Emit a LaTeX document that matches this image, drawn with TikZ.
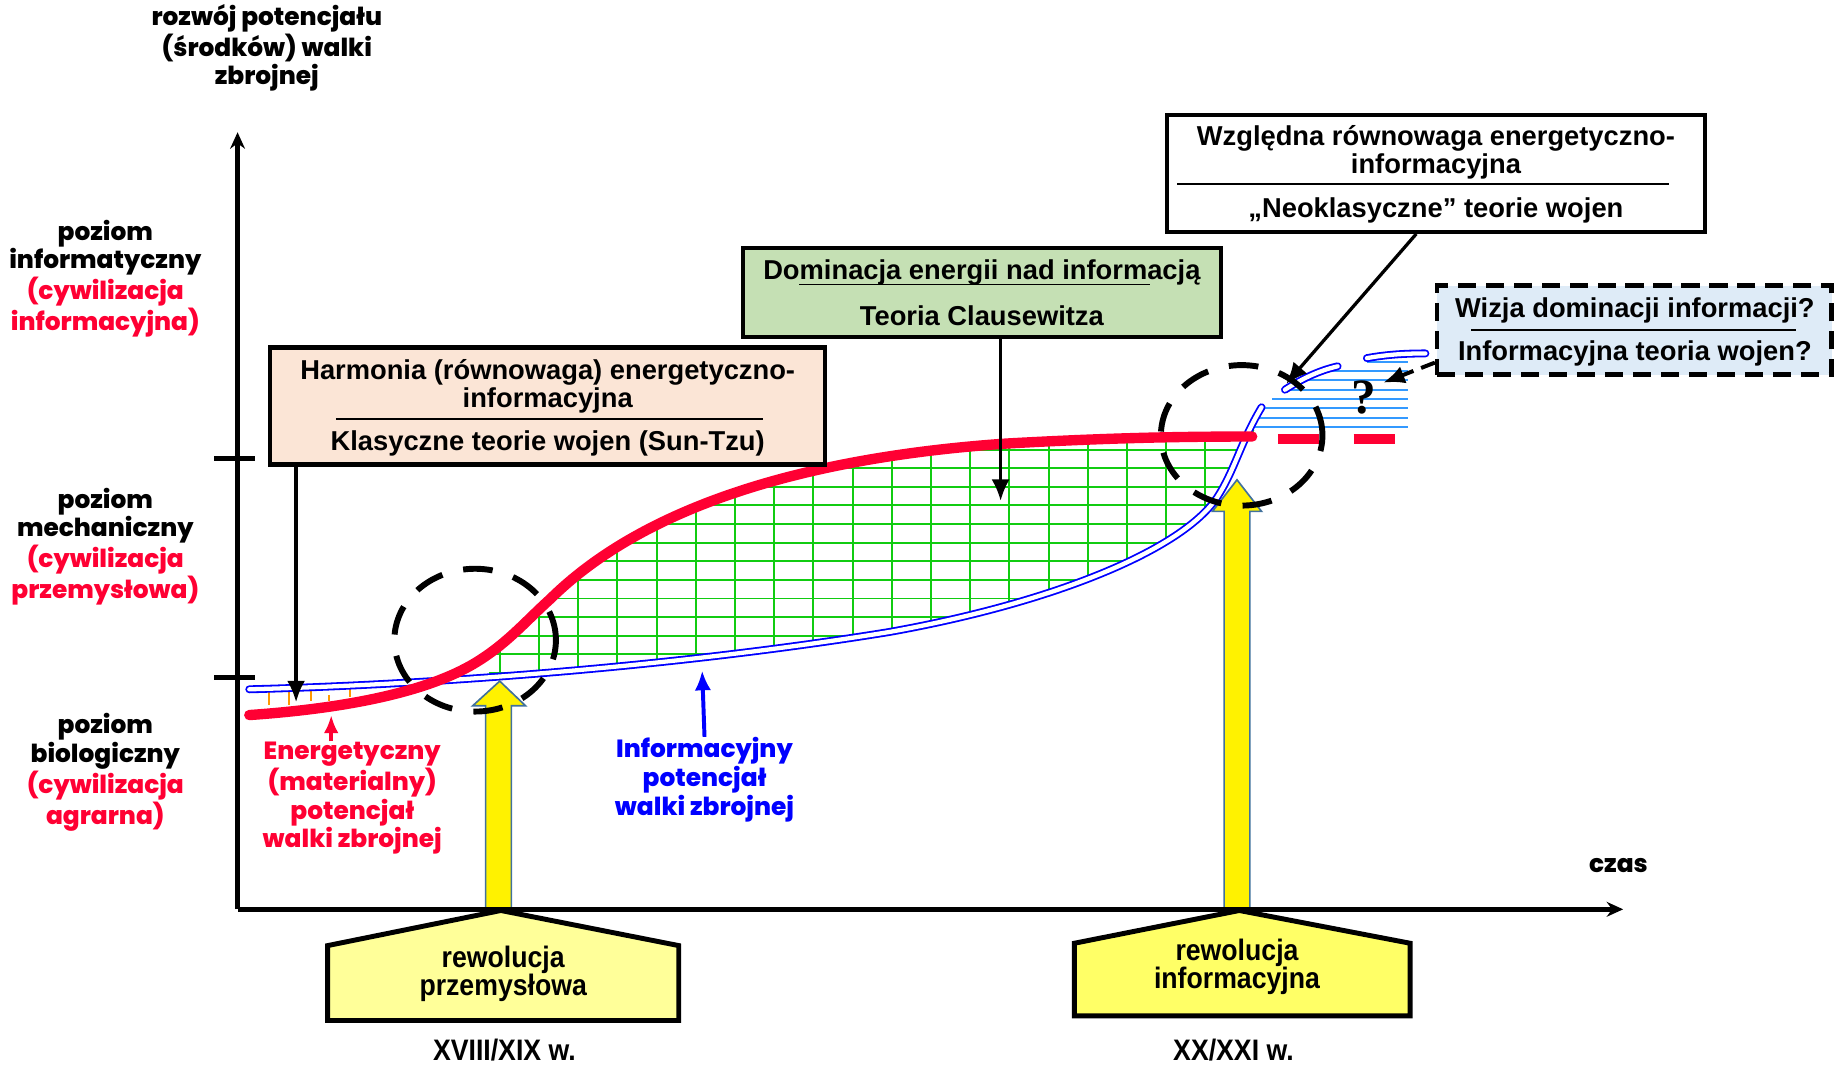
\documentclass[tikz,border=0pt]{standalone}
\usepackage{fontspec}
\usepackage{graphicx}
\usetikzlibrary{arrows.meta}
\setmainfont{Liberation Sans}
\newfontfamily\heavyfont{Poppins ExtraBold}
\newfontfamily\qfont{Liberation Serif}
\definecolor{crimson}{HTML}{FF0033}
\definecolor{peach}{HTML}{FBE5D6}
\definecolor{sage}{HTML}{C5E0B4}
\definecolor{ice}{HTML}{DEEBF7}
\definecolor{lemon}{HTML}{FFFF99}
\definecolor{lemondark}{HTML}{FFFF66}
\definecolor{steel}{HTML}{41719C}
\definecolor{gridgreen}{HTML}{11CC11}
\definecolor{sky}{HTML}{3399FF}
\definecolor{amber}{HTML}{FF9900}
\newcommand{\narrow}[1]{\scalebox{0.9}[1]{#1}}
\newcommand{\energypath}{(213,611) .. controls (300,605) and (370,590) .. (410,564) .. controls (435,548) and (450,530) .. (470,512) .. controls (555,428) and (700,390) .. (860,379) .. controls (950,374) and (1010,373) .. (1070,373)}
\newcommand{\infopath}{(213,589) .. controls (400,584) and (600,566) .. (760,540) .. controls (900,515) and (1010,470) .. (1040,425) .. controls (1055,402) and (1060,378) .. (1078,348)}
\newcommand{\infoback}{(1078,348) .. controls (1060,378) and (1055,402) .. (1040,425) .. controls (1010,470) and (900,515) .. (760,540) .. controls (600,566) and (400,584) .. (213,589)}
\begin{document}
\begin{tikzpicture}[x=0.025cm,y=-0.025cm,
    box/.style={draw=black,line width=2.6pt,inner sep=0pt},
    boxtext/.style={font=\bfseries\fontsize{16.6}{17}\selectfont,align=center,inner sep=0pt},
    axtext/.style={font=\heavyfont\fontsize{15.1}{17.5}\selectfont,align=center,inner sep=0pt},
    narrowtext/.style={font=\bfseries\fontsize{18}{17}\selectfont,align=center,inner sep=0pt},
    pointer/.style={-{Latex[length=13pt,width=11pt]},line width=2pt},
    divider/.style={line width=1pt},
    ring/.style={draw=black,line width=3.6pt,dash pattern=on 18pt off 13pt},
    blockarrow/.style={fill=yellow,draw=steel,line width=1pt},
    house/.style={draw=black,line width=3pt},
    gridline/.style={draw=gridgreen,line width=1.2pt},
    hatch/.style={draw=sky,line width=1.2pt},
    infoline/.style={draw=blue,double=white,line width=1.1pt,double distance=2.6pt,line cap=round}]
    \useasboundingbox (0,0) rectangle (1568,910);

    \begin{scope}
      \clip (418,300) rectangle (1075,620);
      \clip \energypath -- \infoback -- cycle;
      \foreach \k in {0,...,13} \draw[gridline] (400,575-15.9*\k) -- (1080,575-15.9*\k);
      \foreach \k in {0,...,18} \draw[gridline] (427+33.5*\k,360) -- (427+33.5*\k,600);
    \end{scope}
    \foreach \y/\xl in {309/1168,317/1134,325/1114,333/1099,341/1087,349/1075,357/1070,365/1067}
      \draw[hatch] (\xl,\y) -- (1203,\y);
    \foreach \x/\a/\b in {230/590/602,247/590/602,266/590/599,281/594/599,299/589/596}
      \draw[amber,line width=1.3pt] (\x,\a) -- (\x,\b);

    \draw[infoline] \infopath;
    \draw[infoline] (1098,333) .. controls (1112,324) and (1126,317) .. (1143,313);
    \draw[infoline] (1168,306) .. controls (1185,303) and (1200,302) .. (1218,302);
    \draw[crimson,line width=6.3pt,line cap=round] \energypath;
    \draw[crimson,line width=6.3pt,dash pattern=on 25pt off 21pt] (1092,375) -- (1192,375);

    \draw[blockarrow] (415,776) -- (415,603) -- (404,603) -- (427,582) -- (449,603) -- (437,603) -- (437,776) -- cycle;
    \draw[blockarrow] (1046,776) -- (1046,437) -- (1036,437) -- (1057,410) -- (1078,437) -- (1068,437) -- (1068,776) -- cycle;
    \draw[house,fill=lemon] (428,778) -- (580,808) -- (580,872) -- (280,872) -- (280,808) -- cycle;
    \draw[house,fill=lemondark] (1059,778) -- (1205,806) -- (1205,868) -- (918,868) -- (918,806) -- cycle;
    \node[narrowtext] (revind) at (430,832) {\narrow{rewolucja}\\\narrow{przemysłowa}};
    \node[narrowtext] (revinf) at (1057,826.5) {\narrow{rewolucja}\\\narrow{informacyjna}};
    \node[narrowtext] (cent18) at (431,897) {\narrow{XVIII/XIX w.}};
    \node[narrowtext] (cent20) at (1054,897) {\narrow{XX/XXI w.}};

    \coordinate (o) at (203,777); \coordinate (ytop) at (203,113); \coordinate (xend) at (1387,777);
    \draw[line width=3pt,-{Stealth[length=10pt,width=9pt]}] (o) -- (ytop);
    \draw[line width=3pt,-{Stealth[length=10pt,width=9pt]}] (o) -- (xend);
    \draw[line width=3pt] (183,392) -- (218,392);
    \draw[line width=3pt] (183,579) -- (218,579);

    \node[axtext] (ytitle) at (228,41) {rozwój potencjału\\(środków) walki\\zbrojnej};
    \node[axtext] (lvlinfo) at (90,238) {poziom\\informatyczny\\\textcolor{crimson}{(cywilizacja}\\\textcolor{crimson}{informacyjna)}};
    \node[axtext] (lvlmech) at (90,467) {poziom\\mechaniczny\\\textcolor{crimson}{(cywilizacja}\\\textcolor{crimson}{przemysłowa)}};
    \node[axtext] (lvlbio) at (90,660) {poziom\\biologiczny\\\textcolor{crimson}{(cywilizacja}\\\textcolor{crimson}{agrarna)}};
    \node[axtext] (czas) at (1383,740) {czas};

    \node[box,fill=peach,minimum width=11.85cm,minimum height=2.5cm] (harm) at (468,347) {};
    \node[boxtext] (harmtop) at (468,330) {Harmonia (równowaga) energetyczno-\\informacyjna};
    \draw[divider] (287,358) -- (652,358);
    \node[boxtext] (harmbot) at (468,379) {Klasyczne teorie wojen (Sun-Tzu)};

    \node[box,fill=sage,minimum width=10.2cm,minimum height=1.9cm] (clau) at (839,250) {};
    \node[boxtext] (clautop) at (839,233) {Dominacja energii nad informacją};
    \draw[divider] (683,243) -- (983,243);
    \node[boxtext] (claubot) at (839,270) {Teoria Clausewitza};

    \node[box,fill=white,minimum width=11.5cm,minimum height=2.5cm] (neo) at (1227,148) {};
    \node[boxtext] (neotop) at (1227,130.5) {Względna równowaga energetyczno-\\informacyjna};
    \draw[divider] (1006,157) -- (1426,157);
    \node[boxtext] (neobot) at (1227,180) {„Neoklasyczne” teorie wojen};

    \node[box,fill=ice,dash pattern=on 11pt off 6pt,minimum width=8.425cm,minimum height=1.9cm] (wiz) at (1396.5,282) {};
    \node[boxtext] (wiztop) at (1397,265) {Wizja dominacji informacji?};
    \draw[divider] (1257,282) -- (1535,282);
    \node[boxtext] (wizbot) at (1397,302) {Informacyjna teoria wojen?};

    \node[font=\qfont\bfseries\fontsize{30}{30}\selectfont,inner sep=0pt] (qmark) at (1165,340) {?};

    \coordinate (harmpt) at (253,600); \coordinate (claupt) at (855,428);
    \coordinate (neopt) at (1099,328); \coordinate (wizpt) at (1182,327);
    \draw[pointer] (harm.south -| harmpt) -- (harmpt);
    \draw[pointer] (clau.south -| claupt) -- (claupt);
    \draw[pointer] ([xshift=-0.42cm]neo.south) -- (neopt);
    \draw[pointer,line width=2.4pt,dash pattern=on 9pt off 5pt] ([yshift=0.3cm]wiz.south west) -- (wizpt);

    \node[axtext,text=crimson] (energ) at (301,682) {Energetyczny\\(materialny)\\potencjał\\walki zbrojnej};
    \node[axtext,text=blue] (infol) at (602,666) {Informacyjny\\potencjał\\walki zbrojnej};
    \coordinate (energpt) at (283,611); \coordinate (infopt) at (600,573);
    \draw[-{Latex[length=11pt,width=9pt]},crimson,line width=2.2pt] (energ.north -| energpt) -- (energpt);
    \draw[-{Latex[length=12pt,width=10pt]},blue,line width=2.4pt] (infol.north) -- (infopt);

    \draw[ring] (406,547) ellipse [x radius=1.725cm, y radius=1.525cm];
    \draw[ring] (1061,372) ellipse [x radius=1.725cm, y radius=1.5cm];
\end{tikzpicture}
\end{document}
